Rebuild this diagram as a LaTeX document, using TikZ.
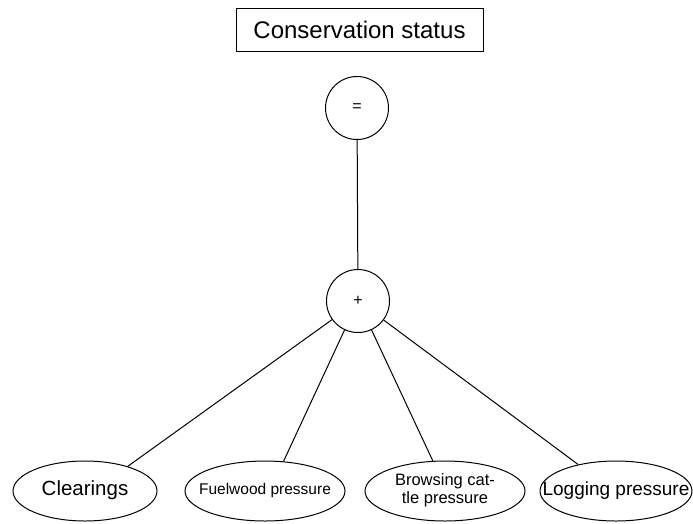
\documentclass[tikz,border=0pt]{standalone}
\usepackage{fontspec}
\setmainfont{Liberation Sans}
\usetikzlibrary{shapes.geometric}
\newcommand{\leaftext}[1]{\makebox[0pt][c]{\begin{tabular}{@{}c@{}}#1\end{tabular}}}
\begin{document}
\begin{tikzpicture}[x=1pt,y=-1pt,line width=1pt,
  opnode/.style={circle,draw,minimum size=63pt,inner sep=0pt,font=\fontsize{16}{18}\selectfont},
  leaf/.style={ellipse,draw,minimum height=60pt,inner sep=0pt},
  link/.style={draw}]
\useasboundingbox (0,0) rectangle (693,523);
\node[draw,minimum width=247pt,minimum height=43pt,inner sep=0pt,font=\fontsize{24}{28}\selectfont] (status) at (359.5,29.5) {Conservation status};
\node[opnode] (eq) at (357,108) {=};
\node[opnode] (plus) at (358,301) {+};
\node[leaf,minimum width=144pt,font=\fontsize{20.5}{24}\selectfont] (clear) at (85,491) {\leaftext{Clearings}};
\node[leaf,minimum width=160pt,font=\fontsize{15.5}{18}\selectfont] (fuel) at (265,491) {\leaftext{Fuelwood pressure}};
\node[leaf,minimum width=160pt,font=\fontsize{16.5}{18}\selectfont] (browse) at (445,491) {\leaftext{Browsing cat-\\tle pressure}};
\node[leaf,minimum width=152pt,font=\fontsize{19}{22}\selectfont] (log) at (616,491) {\leaftext{Logging pressure}};
\draw[link] (eq) -- (plus);
\draw[link] (plus) -- (clear.30);
\draw[link] (plus) -- (fuel.58);
\draw[link] (plus) -- (browse.112);
\draw[link] (plus) -- (log.145);
\end{tikzpicture}
\end{document}
